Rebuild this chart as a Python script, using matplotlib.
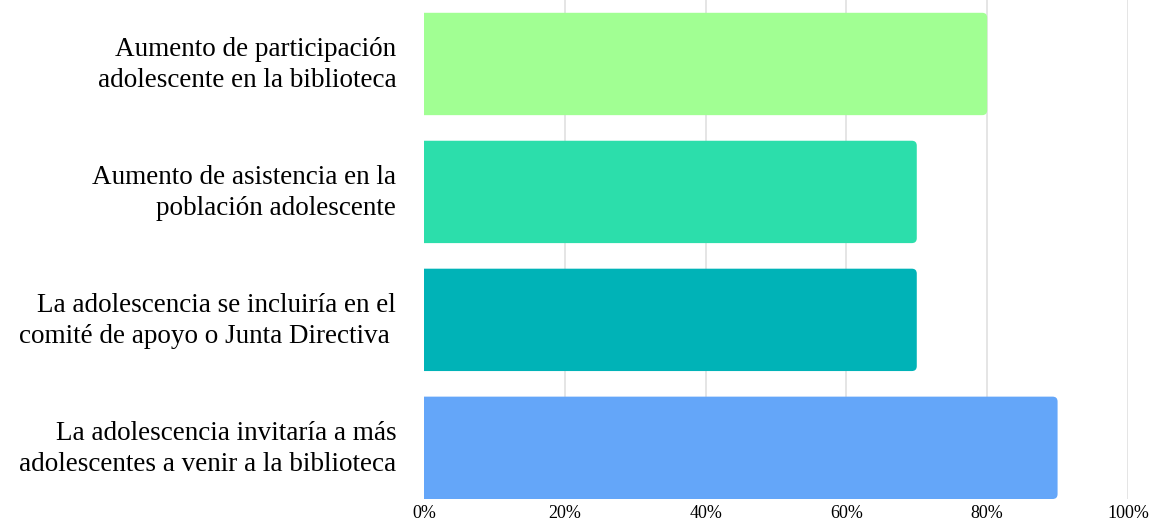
import matplotlib.pyplot as plt
from matplotlib.patches import FancyBboxPatch
from matplotlib.ticker import PercentFormatter
from matplotlib.transforms import ScaledTranslation

labels = [
    "Aumento de participación\nadolescente en la biblioteca",
    "Aumento de asistencia en la\npoblación adolescente",
    "La adolescencia se incluiría en el\ncomité de apoyo o Junta Directiva ",
    "La adolescencia invitaría a más\nadolescentes a venir a la biblioteca",
]
values = [80, 70, 70, 90]
colors = ["#A1FF93", "#2CDEAB", "#00B3B7", "#64A6F9"]

plt.rcParams['font.family'] = ['Liberation Serif', 'DejaVu Serif']

fig = plt.figure(figsize=(11.49, 5.23), dpi=100)
ax = fig.add_axes([0.369, 0.0459, 0.6127, 0.9541])

pos = list(range(len(labels)))
bars = ax.barh(pos, values, height=0.8, color=colors)

# swap plain bars for ones with rounded right corners
for b, c in zip(bars, colors):
    x, y = b.get_x(), b.get_y()
    w, h = b.get_width(), b.get_height()
    b.set_visible(False)
    r = 0.7
    p = FancyBboxPatch((x - 2, y), w + 2, h,
                       boxstyle=f"round,pad=0,rounding_size={r}",
                       mutation_aspect=7.04 / 128,
                       facecolor=c, edgecolor="none", zorder=2)
    ax.add_patch(p)

ax.set_xlim(0, 100)
ax.set_ylim(3.4, -0.5)
ax.set_xticks([0, 20, 40, 60, 80, 100])
ax.xaxis.set_major_formatter(PercentFormatter(decimals=0))
ax.set_yticks(pos)
ax.set_yticklabels(labels, fontsize=19.5, linespacing=1.3)
ax.tick_params(axis='y', length=0, pad=20)
ax.tick_params(axis='x', length=0, pad=4, labelsize=13)
# nudge the category labels up a little
shift = ScaledTranslation(0, 5 / 100, fig.dpi_scale_trans)
for t in ax.get_yticklabels():
    t.set_transform(t.get_transform() + shift)
ax.grid(axis='x', color="#e0e0e0", linewidth=1.2, zorder=0)
ax.xaxis.get_gridlines()[0].set_visible(False)
ax.set_axisbelow(True)
for s in ax.spines.values():
    s.set_visible(False)

fig.savefig("out.png", dpi=100)
